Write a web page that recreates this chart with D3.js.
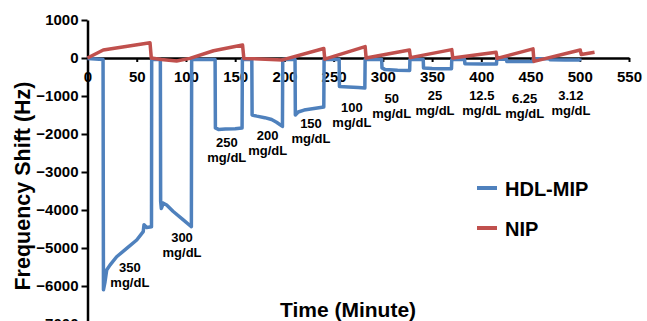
<!DOCTYPE html>
<html>
<head>
<meta charset="utf-8">
<script src="https://cdn.jsdelivr.net/npm/d3@7"></script>
<style>
  body { margin: 0; background: #fff; }
  text { font-family: "Liberation Sans", Arial, sans-serif; font-weight: bold; }
</style>
</head>
<body>
<div id="chart"></div>
<script>
// HDL-MIP response (time in minutes, frequency shift in Hz)
const hdlTime = [0, 15.8, 16.2, 17.8, 19.5, 22.8, 29.6, 39.8, 50, 56.6, 57.4, 60.1, 65, 65.2,
  74, 74.3, 75, 77, 80.4, 87.1, 97.3, 105.5, 105.8,
  129.6, 129.9, 133, 140, 150, 157, 157.3,
  166.9, 167.2, 172, 180, 187, 192, 198, 198.3,
  210.8, 211.1, 214, 220, 230, 240, 240.3,
  255.6, 255.9, 265, 275, 281.7, 282,
  298.8, 299.1, 302, 315, 327.2, 327.5,
  341, 341.3, 350, 360, 369.7, 370,
  383, 383.3, 400, 415.4, 415.7,
  425.6, 425.9, 440, 452.5, 452.8,
  469.5, 469.8, 485, 500, 500.3];
const hdlShift = [-10, -40, -6100, -5890, -5580, -5450, -5230, -5010, -4790, -4570, -4390, -4460, -4440, -40,
  -40, -3770, -3960, -3820, -3870, -4040, -4260, -4440, -40,
  -40, -1840, -1880, -1870, -1860, -1840, -40,
  -40, -1500, -1530, -1570, -1620, -1690, -1800, -40,
  -40, -1500, -1420, -1370, -1330, -1290, -40,
  -40, -750, -760, -775, -790, -40,
  -40, -260, -300, -320, -330, -40,
  -40, -260, -275, -280, -280, -40,
  -40, -150, -155, -160, -30,
  -30, -90, -95, -95, -20,
  -20, -45, -50, -50, -10];

// NIP response
const nipTime = [0, 16, 63.5, 64.8, 75, 90.5, 104, 128, 157.5, 158.8, 198, 240, 241,
  282, 283, 327, 328, 370, 371, 415, 416, 452.5, 453.5, 500.5, 501.5, 515];
const nipShift = [0, 210, 400, 0, -40, -80, -10, 190, 340, -10, -50, 250, -30,
  300, 0, 210, 10, 220, 0, 150, -10, 240, -90, 210, 90, 150];

const xTicks = [0, 50, 100, 150, 200, 250, 300, 350, 400, 450, 500, 550];
const yTicks = [1000, 0, -1000, -2000, -3000, -4000, -5000, -6000, -7000];

const concLabels = ["350", "300", "250", "200", "150", "100", "50", "25", "12.5", "6.25", "3.12"];
const concTime = [43, 96, 141.5, 183, 227, 268.5, 309, 353, 400.5, 444, 491];
const concShift = [-5630, -4840, -2340, -2160, -1840, -1420, -1180, -1100, -1100, -1180, -1100];

const seriesNames = ["HDL-MIP", "NIP"];
const seriesColors = ["#4F81BD", "#C0504D"];

const width = 647, height = 321;

const svg = d3.select("#chart")
  .append("svg")
  .attr("width", width)
  .attr("height", height);

const x = d3.scaleLinear().domain([0, 550]).range([87.5, 629]);
const y = d3.scaleLinear().domain([-7000, 1000]).range([324, 20]);

const xAxis = svg.append("g")
  .attr("transform", `translate(0,${y(0)})`)
  .call(d3.axisBottom(x).tickValues(xTicks).tickFormat(d3.format("d"))
    .tickSize(4).tickSizeOuter(0).tickPadding(9.5));

const yAxis = svg.append("g")
  .attr("transform", `translate(${x(0)},0)`)
  .call(d3.axisLeft(y).tickValues(yTicks).tickFormat(d3.format("d"))
    .tickSize(6).tickSizeOuter(0).tickPadding(3));

[xAxis, yAxis].forEach(g => {
  g.select(".domain").attr("stroke", "#000").attr("stroke-width", 2.5);
  g.selectAll(".tick line").attr("stroke", "#000").attr("stroke-width", 2);
  g.selectAll(".tick text")
    .attr("fill", "#000")
    .attr("font-size", 15)
    .attr("font-family", "'Liberation Sans', Arial, sans-serif")
    .attr("font-weight", "bold");
});

const line = d3.line()
  .x(d => x(d[0]))
  .y(d => y(d[1]));

const hdlData = hdlTime.map((t, i) => [t, hdlShift[i]]);
const nipData = nipTime.map((t, i) => [t, nipShift[i]]);

svg.append("path")
  .datum(hdlData)
  .attr("fill", "none")
  .attr("stroke", seriesColors[0])
  .attr("stroke-width", 3.5)
  .attr("stroke-linejoin", "round")
  .attr("d", line);

svg.append("path")
  .datum(nipData)
  .attr("fill", "none")
  .attr("stroke", seriesColors[1])
  .attr("stroke-width", 3.5)
  .attr("stroke-linejoin", "round")
  .attr("d", line);

const conc = svg.append("g")
  .selectAll("text")
  .data(concLabels)
  .join("text")
  .attr("x", (d, i) => x(concTime[i]))
  .attr("y", (d, i) => y(concShift[i]))
  .attr("text-anchor", "middle")
  .attr("font-size", 13)
  .attr("fill", "#000");

conc.append("tspan").text(d => d);
conc.append("tspan")
  .attr("x", (d, i) => x(concTime[i]))
  .attr("dy", 15)
  .text("mg/dL");

// legend
const legend = svg.append("g")
  .selectAll("g")
  .data(seriesNames)
  .join("g")
  .attr("transform", (d, i) => `translate(477,${188 + i * 40})`);

legend.append("line")
  .attr("x1", 0).attr("x2", 20)
  .attr("stroke", (d, i) => seriesColors[i])
  .attr("stroke-width", 4);

legend.append("text")
  .attr("x", 28)
  .attr("y", 8)
  .attr("font-size", 20)
  .attr("fill", "#000")
  .text(d => d);

svg.append("text")
  .attr("x", 280)
  .attr("y", 317)
  .attr("font-size", 21)
  .attr("fill", "#000")
  .text("Time (Minute)");

svg.append("text")
  .attr("transform", "translate(30,186) rotate(-90)")
  .attr("text-anchor", "middle")
  .attr("font-size", 21.5)
  .attr("fill", "#000")
  .text("Frequency Shift (Hz)");
</script>
</body>
</html>
